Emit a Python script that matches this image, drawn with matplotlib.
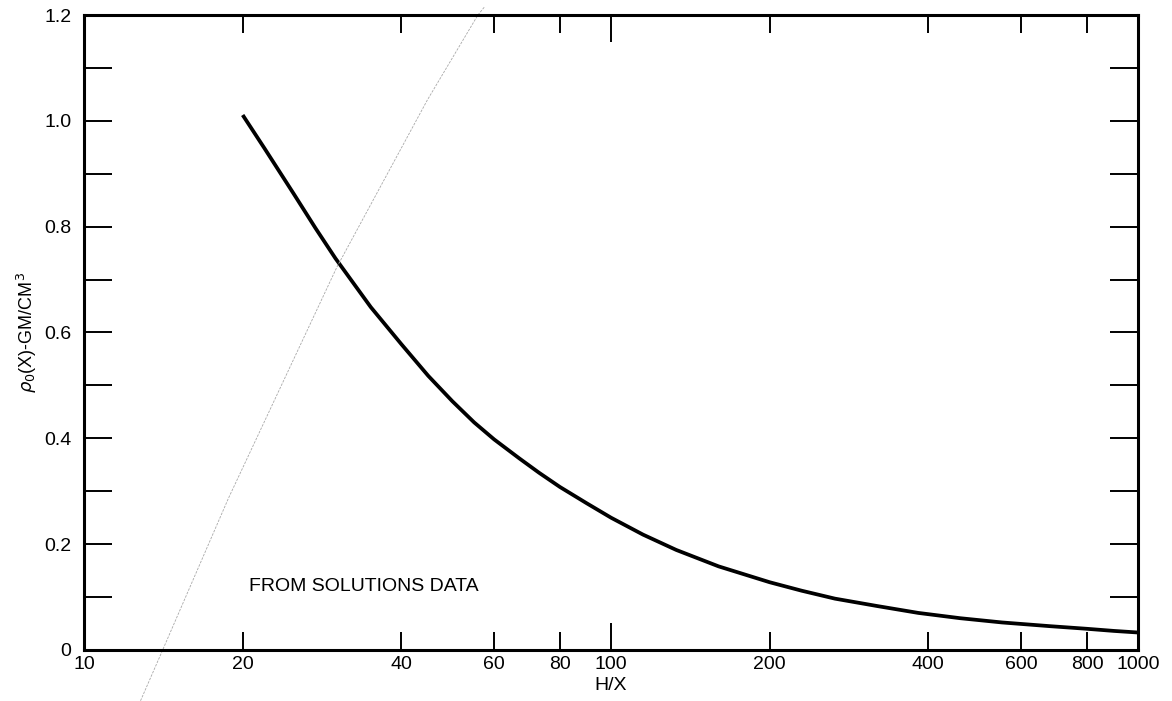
import matplotlib
matplotlib.use("Agg")
import matplotlib.pyplot as plt
from matplotlib.ticker import FixedLocator, NullLocator

# curve (H/X vs rho_0)
hx = [20, 22, 25, 27.5, 30, 35, 40, 45, 50, 55, 60, 67, 73, 80, 90, 100, 115, 133, 160,
      200, 230, 266, 320, 383, 460, 552, 680, 800, 900, 1000]
rho = [1.011, 0.948, 0.862, 0.797, 0.740, 0.648, 0.578, 0.518, 0.470, 0.430, 0.398,
       0.362, 0.335, 0.308, 0.277, 0.250, 0.218, 0.189, 0.158, 0.128, 0.112, 0.097,
       0.083, 0.070, 0.060, 0.052, 0.045, 0.040, 0.036, 0.033]

# faint bleed-through line on the scan
faint_x = [12.8, 14.1, 18.8, 30.2, 44.8, 55.9, 57.5]
faint_y = [-0.096, 0.0, 0.287, 0.724, 1.039, 1.2, 1.215]

xticks = [10, 20, 40, 60, 80, 100, 200, 400, 600, 800, 1000]
xtick_labels = ["10", "20", "40", "60", "80", "100", "200", "400", "600", "800", "1000"]
yticks = [0, 0.2, 0.4, 0.6, 0.8, 1.0, 1.2]
ytick_labels = ["0", "0.2", "0.4", "0.6", "0.8", "1.0", "1.2"]
yminor = [0.1, 0.3, 0.5, 0.7, 0.9, 1.1]

plt.rcParams["font.family"] = ["Liberation Sans", "DejaVu Sans"]

fig = plt.figure(figsize=(11.72, 7.01), dpi=100)
ax = fig.add_axes([0.0717, 0.0728, 0.8993, 0.9058])

ax.plot(hx, rho, color="black", lw=2.7, solid_capstyle="butt", solid_joinstyle="round")
ax.plot(faint_x, faint_y, color="#a8a8a8", lw=0.6, ls=(0, (3, 1.5)), clip_on=False)

ax.set_xscale("log")
ax.set_xlim(10, 1000)
ax.set_ylim(0, 1.2)

ax.xaxis.set_major_locator(FixedLocator(xticks))
ax.xaxis.set_minor_locator(NullLocator())
ax.set_xticklabels(xtick_labels)
ax.yaxis.set_major_locator(FixedLocator(yticks))
ax.yaxis.set_minor_locator(FixedLocator(yminor))
ax.set_yticklabels(ytick_labels)

ax.tick_params(axis="x", which="major", direction="in", length=13, width=1.4,
               top=True, bottom=True, labelsize=14, pad=4)
ax.tick_params(axis="y", which="both", direction="in", length=20, width=1.4,
               left=True, right=True, labelsize=14, pad=9)

# the 100 tick is drawn longer than the others
for t, v in zip(ax.xaxis.get_major_ticks(), xticks):
    if v == 100:
        t.tick1line.set_markersize(19.5)
        t.tick2line.set_markersize(19.5)

for s in ax.spines.values():
    s.set_linewidth(2.2)

ax.set_xlabel("H/X", fontsize=14, labelpad=3)
ax.set_ylabel(r"$\rho_0$(X)-GM/CM$^3$", fontsize=13, labelpad=4)

ax.text(20.6, 0.119, "FROM SOLUTIONS DATA", fontsize=14, va="center", ha="left")

fig.savefig("out.png", dpi=100)
